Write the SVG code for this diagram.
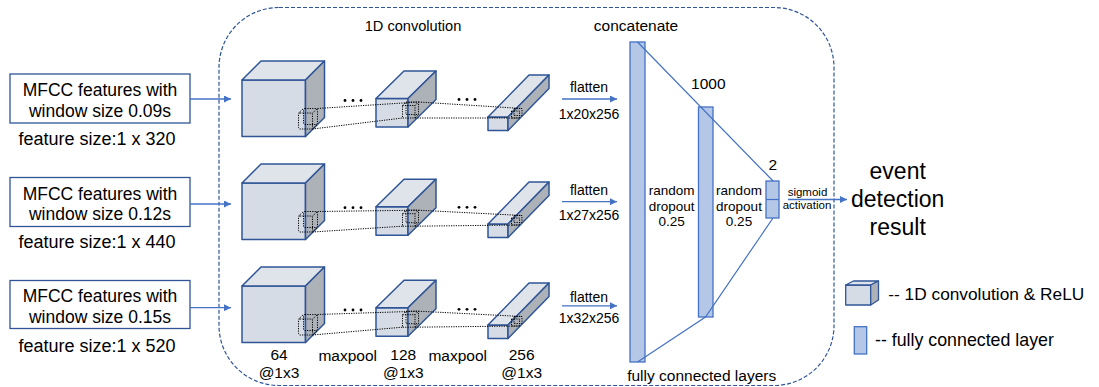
<svg xmlns="http://www.w3.org/2000/svg" xmlns:xlink="http://www.w3.org/1999/xlink" width="1099" height="387" viewBox="0 0 1099 387">
<style>
text{font-family:"Liberation Sans",Arial,sans-serif;fill:#000}
.box{fill:#fff;stroke:#2F5597;stroke-width:1.3}
.front{fill:#D6DCE5;stroke:#2F5597;stroke-width:1.5;stroke-linejoin:round}
.top{fill:#DFE3EA;stroke:#2F5597;stroke-width:1.5;stroke-linejoin:round}
.side{fill:#ADB1B8;stroke:#2F5597;stroke-width:1.5;stroke-linejoin:round}
.fc{fill:#B4C7E7;stroke:#4472C4;stroke-width:1.3}
.dot{fill:none;stroke:#000;stroke-width:1;stroke-dasharray:1.2 1.2}
.arr{fill:none;stroke:#4472C4;stroke-width:1.3;marker-end:url(#ah)}
.ln{fill:none;stroke:#4472C4;stroke-width:1.2}
.frame{fill:none;stroke:#2F5597;stroke-width:1.2;stroke-dasharray:4 2}
.c{text-anchor:middle}
</style>
<defs>
<marker id="ah" viewBox="0 0 10 10" refX="10" refY="5" markerWidth="7" markerHeight="7" markerUnits="userSpaceOnUse" orient="auto"><path d="M0,0 L10,5 L0,10 z" fill="#4472C4"/></marker>
<g id="cubeL">
<rect class="front" x="0" y="0" width="63.5" height="56.5"/>
<polygon class="top" points="0,0 19,-19 82.5,-19 63.5,0"/>
<polygon class="side" points="63.5,0 82.5,-19 82.5,37.5 63.5,56.5"/>
<rect class="dot" x="56.5" y="33" width="14" height="16" rx="1.5"/>
<rect class="dot" x="61.5" y="28.5" width="14" height="16" rx="1.5"/>
<path class="dot" d="M56.5,33 L61.5,28.5 M70.5,33 L75.5,28.5 M70.5,49 L75.5,44.5"/>
</g>
<g id="cubeM">
<rect class="front" x="0" y="0" width="32" height="28.5"/>
<polygon class="top" points="0,0 28,-27.5 60,-27.5 32,0"/>
<polygon class="side" points="32,0 60,-27.5 60,1 32,28.5"/>
<rect class="dot" x="26.5" y="7" width="12.5" height="12.5"/>
<rect class="dot" x="30" y="3.5" width="12.5" height="12.5"/>
<path class="dot" d="M26.5,7 L30,3.5 M39,7 L42.5,3.5 M39,19.5 L42.5,16"/>
</g>
<g id="cubeS">
<rect class="front" x="0" y="0" width="20" height="13.5"/>
<polygon class="top" points="0,0 41,-42 61,-42 20,0"/>
<polygon class="side" points="20,0 61,-42 61,-28.5 20,13.5"/>
<rect class="dot" x="23.5" y="-6" width="8" height="7"/>
<rect class="dot" x="26" y="-8.5" width="8" height="7"/>
</g>
<g id="dots3">
<circle cx="0" cy="0" r="1.4"/><circle cx="8" cy="0" r="1.4"/><circle cx="16" cy="0" r="1.4"/>
</g>
</defs>
<rect width="1099" height="387" fill="#fff"/>

<g id="frame">
<rect class="frame" x="219" y="7.5" width="615" height="378" rx="60" ry="60"/>
<text class="c" x="413" y="31" font-size="14.6">1D convolution</text>
<text class="c" x="636" y="30.5" font-size="15.5">concatenate</text>
<text class="c" x="701.7" y="380.5" font-size="15.5">fully connected layers</text>
</g>

<g id="input1">
<rect class="box" x="10" y="74" width="180" height="49"/>
<text class="c" x="100" y="95.5" font-size="17.5">MFCC features with</text>
<text class="c" x="100" y="116.5" font-size="17.5">window size 0.09s</text>
<text class="c" x="97" y="144.5" font-size="18">feature size:1 x 320</text>
</g>
<g id="input2">
<rect class="box" x="10" y="177.5" width="180" height="49"/>
<text class="c" x="100" y="199.5" font-size="17.5">MFCC features with</text>
<text class="c" x="100" y="220" font-size="17.5">window size 0.12s</text>
<text class="c" x="97" y="248" font-size="18">feature size:1 x 440</text>
</g>
<g id="input3">
<rect class="box" x="10" y="280.5" width="180" height="48"/>
<text class="c" x="100" y="302" font-size="17.5">MFCC features with</text>
<text class="c" x="100" y="322.5" font-size="17.5">window size 0.15s</text>
<text class="c" x="97" y="352" font-size="18">feature size:1 x 520</text>
</g>

<g id="row1-conv64"><use xlink:href="#cubeL" transform="translate(242,80)"/></g>
<g id="row1-conv128"><use xlink:href="#cubeM" transform="translate(376,98.5)"/></g>
<g id="row1-conv256"><use xlink:href="#cubeS" transform="translate(488,117)"/></g>
<g id="row2-conv64"><use xlink:href="#cubeL" transform="translate(242,183)"/></g>
<g id="row2-conv128"><use xlink:href="#cubeM" transform="translate(376,206.7)"/></g>
<g id="row2-conv256"><use xlink:href="#cubeS" transform="translate(488,224)"/></g>
<g id="row3-conv64"><use xlink:href="#cubeL" transform="translate(242,286)"/></g>
<g id="row3-conv128"><use xlink:href="#cubeM" transform="translate(376,307.7)"/></g>
<g id="row3-conv256"><use xlink:href="#cubeS" transform="translate(488,325)"/></g>

<g id="ellipses">
<use xlink:href="#dots3" transform="translate(345,100.5)"/>
<use xlink:href="#dots3" transform="translate(459,99.5)"/>
<use xlink:href="#dots3" transform="translate(345,207.7)"/>
<use xlink:href="#dots3" transform="translate(459,207.3)"/>
<use xlink:href="#dots3" transform="translate(345,310)"/>
<use xlink:href="#dots3" transform="translate(459,309.3)"/>
</g>

<g id="conv-labels">
<text class="c" x="279" y="359.5" font-size="15.5">64</text>
<text class="c" x="279" y="378" font-size="15.5">@1x3</text>
<text class="c" x="347.7" y="360.5" font-size="15.5">maxpool</text>
<text class="c" x="403.3" y="359.5" font-size="15.5">128</text>
<text class="c" x="403.3" y="378" font-size="15.5">@1x3</text>
<text class="c" x="457.7" y="360.5" font-size="15.5">maxpool</text>
<text class="c" x="521.7" y="359.5" font-size="15.5">256</text>
<text class="c" x="521.7" y="378" font-size="15.5">@1x3</text>
</g>

<g id="fc-concat"><rect class="fc" x="630" y="42" width="15" height="320"/></g>
<g id="fc-1000"><rect class="fc" x="698.5" y="107" width="14.5" height="210"/>
<text class="c" x="708.3" y="89" font-size="15.5">1000</text></g>
<g id="fc-2"><rect class="fc" x="766" y="181" width="13" height="37"/>
<line x1="766" y1="199.5" x2="779" y2="199.5" stroke="#4472C4" stroke-width="1.2"/>
<text class="c" x="772.7" y="169.5" font-size="15.5">2</text></g>

<g id="dropout-labels">
<text class="c" x="671.7" y="195" font-size="13.5">random</text>
<text class="c" x="671.7" y="210.5" font-size="13.5">dropout</text>
<text class="c" x="671.7" y="226" font-size="13.5">0.25</text>
<text class="c" x="739" y="195" font-size="13.5">random</text>
<text class="c" x="739" y="210.5" font-size="13.5">dropout</text>
<text class="c" x="739" y="226" font-size="13.5">0.25</text>
</g>

<g id="output">
<text class="c" x="897.7" y="179" font-size="23">event</text>
<text class="c" x="897.7" y="207.3" font-size="23">detection</text>
<text class="c" x="897.7" y="235" font-size="23">result</text>
</g>

<g id="legend-conv">
<rect class="front" x="845.7" y="285" width="25" height="20" style="stroke-width:1.3"/>
<polygon class="top" style="stroke-width:1.3" points="845.7,285 853.5,281 878.5,281 870.7,285"/>
<polygon class="side" style="stroke-width:1.3" points="870.7,285 878.5,281 878.5,300 870.7,305"/>
<text x="888.3" y="299.5" font-size="17.3">-- 1D convolution &amp; ReLU</text>
</g>
<g id="legend-fc">
<rect class="fc" x="854.3" y="326.7" width="12.4" height="27.3"/>
<text x="875" y="346" font-size="17.8">-- fully connected layer</text>
</g>

<g id="connectors">
<line class="arr" x1="190" y1="99" x2="231" y2="99"/>
<line class="arr" x1="190" y1="204" x2="231" y2="204"/>
<line class="arr" x1="190" y1="307.7" x2="231" y2="307.7"/>
<path class="dot" d="M317.5,108.5 L418.5,102 M312.5,129 L402.5,118 M418.5,102 L522,108.5 M415,118 L519.5,118"/>
<path class="dot" d="M317.5,211.5 L418.5,210.2 M312.5,232 L402.5,226.2 M418.5,210.2 L522,215.5 M415,226.2 L519.5,225"/>
<path class="dot" d="M317.5,314.5 L418.5,311.2 M312.5,335 L402.5,327.2 M418.5,311.2 L522,316.5 M415,327.2 L519.5,326"/>
<line class="arr" x1="562" y1="99" x2="617" y2="99"/>
<line class="arr" x1="562" y1="201.7" x2="617" y2="201.7"/>
<line class="arr" x1="562" y1="305.8" x2="617" y2="305.8"/>
<text class="c" x="589" y="92" font-size="14">flatten</text>
<text class="c" x="589" y="118.5" font-size="14">1x20x256</text>
<text class="c" x="589" y="195" font-size="14">flatten</text>
<text class="c" x="589" y="220" font-size="14">1x27x256</text>
<text class="c" x="589" y="301.7" font-size="14">flatten</text>
<text class="c" x="589" y="323.3" font-size="14">1x32x256</text>
<polyline class="ln" points="637.5,42 773,181"/>
<polyline class="ln" points="637.5,362 705.5,317 773,218"/>
<line class="arr" x1="788" y1="199.5" x2="847" y2="199.5"/>
<text class="c" x="807.5" y="196" font-size="11.5">sigmoid</text>
<text class="c" x="807" y="209" font-size="11.5">activation</text>
</g>
</svg>
